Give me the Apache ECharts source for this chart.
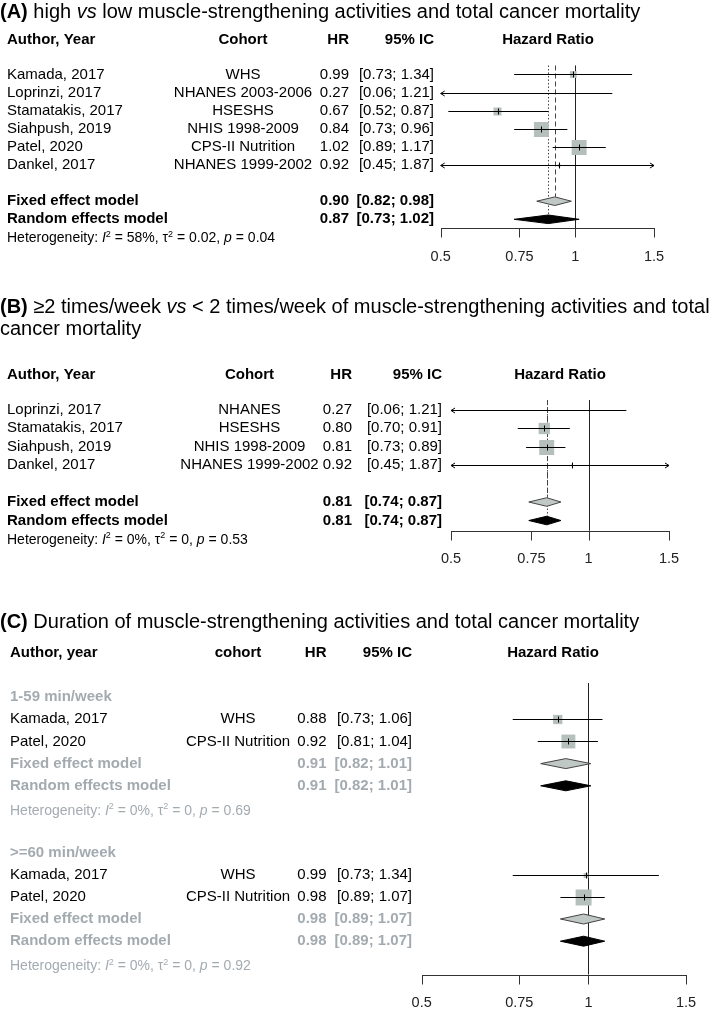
<!DOCTYPE html>
<html>
<head>
<meta charset="utf-8">
<script src="https://cdn.jsdelivr.net/npm/echarts@6/dist/echarts.min.js"></script>
<style>
html,body{margin:0;padding:0;background:#fff;}
#chart{width:709px;height:1010px;}
</style>
</head>
<body>
<div id="chart"></div>
<script>
// ================= DATA =================
const titleA = '{b|(A)} high {i|vs} low muscle-strengthening activities and total cancer mortality';
const titleB = '{b|(B)} ≥2 times/week {i|vs} < 2 times/week of muscle-strengthening activities and total\ncancer mortality';
const titleC = '{b|(C)} Duration of muscle-strengthening activities and total cancer mortality';

const headersAB = ['Author, Year', 'Cohort', 'HR', '95% IC', 'Hazard Ratio'];
const headersC = ['Author, year', 'cohort', 'HR', '95% IC', 'Hazard Ratio'];
const modelLabels = ['Fixed effect model', 'Random effects model'];
const axisTicks = [0.5, 0.75, 1, 1.5];

// Panel A
const authorsA = ['Kamada, 2017', 'Loprinzi, 2017', 'Stamatakis, 2017', 'Siahpush, 2019', 'Patel, 2020', 'Dankel, 2017'];
const cohortsA = ['WHS', 'NHANES 2003-2006', 'HSESHS', 'NHIS 1998-2009', 'CPS-II Nutrition', 'NHANES 1999-2002'];
const hrA = [0.99, 0.27, 0.67, 0.84, 1.02, 0.92];
const lowerA = [0.73, 0.06, 0.52, 0.73, 0.89, 0.45];
const upperA = [1.34, 1.21, 0.87, 0.96, 1.17, 1.87];
const weightA = [8.0, 0.3, 11.2, 39.5, 39.5, 1.5];
const fixedA = [0.90, 0.82, 0.98];
const randomA = [0.87, 0.73, 1.02];
const hetA = ['58%', '0.02', '0.04'];

// Panel B
const authorsB = ['Loprinzi, 2017', 'Stamatakis, 2017', 'Siahpush, 2019', 'Dankel, 2017'];
const cohortsB = ['NHANES', 'HSESHS', 'NHIS 1998-2009', 'NHANES 1999-2002'];
const hrB = [0.27, 0.80, 0.81, 0.92];
const lowerB = [0.06, 0.70, 0.73, 0.45];
const upperB = [1.21, 0.91, 0.89, 1.87];
const weightB = [0.3, 35.8, 62.7, 1.2];
const fixedB = [0.81, 0.74, 0.87];
const randomB = [0.81, 0.74, 0.87];
const hetB = ['0%', '0', '0.53'];

// Panel C
const subgroupsC = ['1-59 min/week', '>=60 min/week'];
const authorsC1 = ['Kamada, 2017', 'Patel, 2020'];
const cohortsC1 = ['WHS', 'CPS-II Nutrition'];
const hrC1 = [0.88, 0.92];
const lowerC1 = [0.73, 0.81];
const upperC1 = [1.06, 1.04];
const weightC1 = [30.9, 69.1];
const fixedC1 = [0.91, 0.82, 1.01];
const randomC1 = [0.91, 0.82, 1.01];
const hetC1 = ['0%', '0', '0.69'];

const authorsC2 = ['Kamada, 2017', 'Patel, 2020'];
const cohortsC2 = ['WHS', 'CPS-II Nutrition'];
const hrC2 = [0.99, 0.98];
const lowerC2 = [0.73, 0.89];
const upperC2 = [1.34, 1.07];
const weightC2 = [8.4, 91.6];
const fixedC2 = [0.98, 0.89, 1.07];
const randomC2 = [0.98, 0.89, 1.07];
const hetC2 = ['0%', '0', '0.92'];

// ================= LAYOUT / STYLE =================
const FONT = '"Liberation Sans", Arial, Helvetica, sans-serif';
const INK = '#000000';
const GREY = '#a3abb0';
const SQ = '#b5c0bd';
const DIA = '#bfc8c4';
const AX = '#333333';

const layoutA = {
  grid: {left: 440.7, width: 213.3, top: 38.3, height: 190.05},
  yMin: -2, yMax: 8.5, header: -1.9, refTop: -0.5, hetOffset: 0.05,
  cols: {author: 7, cohort: 243, hr: 349, ci: 434, haz: 548},
  maxBox: 15, dh: 4.3, modelLines: true, greyModels: false
};
const layoutB = {
  grid: {left: 451, width: 218, top: 372.5, height: 158.2},
  yMin: -2, yMax: 6.55, header: -1.85, refTop: -0.51, hetOffset: 0.05,
  cols: {author: 7, cohort: 249.5, hr: 352, ci: 442, haz: 560},
  maxBox: 15, dh: 4.3, modelLines: true, greyModels: false
};
const layoutC = {
  grid: {left: 421.7, width: 264.3, top: 652.6, height: 321.9},
  yMin: -2, yMax: 12.5, header: -2, refTop: -0.63, hetOffset: 0.12,
  cols: {author: 10, cohort: 238, hr: 326.5, ci: 412, haz: 553},
  maxBox: 16, dh: 5, modelLines: false, greyModels: true
};

// ================= HELPERS =================
function fmt2(v) { return v.toFixed(2); }
function ciText(lo, hi) { return '[' + fmt2(lo) + '; ' + fmt2(hi) + ']'; }
function hetText(h) {
  return '{n|Heterogeneity: }{i|I}{s|2}{n| = ' + h[0] + ', τ}{s|2}{n| = ' + h[1] + ', }{i|p}{n| = ' + h[2] + '}';
}
function hetRich(color) {
  const base = {fontSize: 14, fontFamily: FONT, fill: color, lineHeight: 17, verticalAlign: 'middle'};
  return {
    n: base,
    i: Object.assign({}, base, {fontStyle: 'italic'}),
    s: {fontSize: 9, fontFamily: FONT, fill: color, lineHeight: 9, verticalAlign: 'top'}
  };
}

function buildPanel(gi, L, headers, blocks) {
  const C = L.cols;
  const rows = [];
  const studies = [];
  const diamonds = [];
  const refs = [];
  let maxW = 0;
  blocks.forEach(b => b.weight.forEach(w => { if (w > maxW) maxW = w; }));

  rows.push({row: L.header, items: [
    {t: headers[0], x: C.author, bold: true},
    {t: headers[1], x: C.cohort, align: 'center', bold: true},
    {t: headers[2], x: C.hr, align: 'right', bold: true},
    {t: headers[3], x: C.ci, align: 'right', bold: true},
    {t: headers[4], x: C.haz, align: 'center', bold: true}
  ]});
  const modelColor = L.greyModels ? GREY : INK;
  let r = 0;
  blocks.forEach(b => {
    if (b.label) {
      rows.push({row: r, items: [{t: b.label, x: C.author, bold: true, color: GREY}]});
      r++;
    }
    b.authors.forEach((a, i) => {
      rows.push({row: r, items: [
        {t: a, x: C.author},
        {t: b.cohorts[i], x: C.cohort, align: 'center'},
        {t: fmt2(b.hr[i]), x: C.hr, align: 'right'},
        {t: ciText(b.lower[i], b.upper[i]), x: C.ci, align: 'right'}
      ]});
      studies.push([b.hr[i], r, b.lower[i], b.upper[i], b.weight[i]]);
      r++;
    });
    if (!b.label) r++;
    [b.fixed, b.random].forEach((m, k) => {
      rows.push({row: r, items: [
        {t: modelLabels[k], x: C.author, bold: true, color: modelColor},
        {t: fmt2(m[0]), x: C.hr, align: 'right', bold: true, color: modelColor},
        {t: ciText(m[1], m[2]), x: C.ci, align: 'right', bold: true, color: modelColor}
      ]});
      diamonds.push([m[0], r, m[1], m[2], k]);
      if (L.modelLines) refs.push([m[0], L.refTop, r, k + 1]);
      r++;
    });
    rows.push({row: r + L.hetOffset, items: [
      {t: hetText(b.het), x: C.author, rich: hetRich(L.greyModels ? GREY : INK), color: L.greyModels ? GREY : INK, size: 14}
    ]});
    r += 2;
  });
  refs.unshift([1, L.refTop, L.yMax, 0]);

  const grid = Object.assign({containLabel: false}, L.grid);
  const xAxis = {
    gridIndex: gi, type: 'log', logBase: 10, min: 0.5, max: 1.5, show: false,
    splitLine: {show: false}
  };
  const yAxis = {gridIndex: gi, type: 'value', inverse: true, min: L.yMin, max: L.yMax, show: false, splitLine: {show: false}};

  const common = {type: 'custom', coordinateSystem: 'cartesian2d', xAxisIndex: gi, yAxisIndex: gi,
    silent: true, clip: false, animation: false, encode: {x: 0, y: 1}};

  const textSeries = Object.assign({}, common, {
    name: 'table' + gi,
    data: rows.map(s => [1, s.row]),
    renderItem: function (params, api) {
      const s = rows[params.dataIndex];
      const y = api.coord([1, s.row])[1];
      return {type: 'group', children: s.items.map(it => {
        const st = {
          text: it.t, fill: it.color || INK, fontSize: it.size || 15, fontFamily: FONT,
          fontWeight: it.bold ? 'bold' : 'normal', align: it.align || 'left', verticalAlign: 'middle'
        };
        if (it.rich) st.rich = it.rich;
        return {type: 'text', x: it.x, y: y, style: st};
      })};
    }
  });

  const studySeries = Object.assign({}, common, {
    name: 'studies' + gi,
    data: studies,
    renderItem: function (params, api) {
      const est = api.value(0), row = api.value(1), lo = api.value(2), hi = api.value(3), w = api.value(4);
      const cs = params.coordSys;
      const xMin = cs.x, xMax = cs.x + cs.width;
      const y = Math.round(api.coord([1, row])[1]) + 0.5;
      let x1 = api.coord([lo, row])[0];
      let x2 = api.coord([hi, row])[0];
      const la = x1 < xMin - 0.5, ra = x2 > xMax + 0.5;
      x1 = Math.max(x1, xMin);
      x2 = Math.min(x2, xMax);
      const ch = [];
      const xe = api.coord([est, row])[0];
      const inRange = xe >= xMin && xe <= xMax;
      if (inRange) {
        const s = L.maxBox * Math.sqrt(w / maxW);
        ch.push({type: 'rect', shape: {x: xe - s / 2, y: y - s / 2, width: s, height: s}, style: {fill: SQ}});
      }
      ch.push({type: 'line', shape: {x1: x1, y1: y, x2: x2, y2: y}, style: {stroke: INK, lineWidth: 1}});
      if (la) ch.push({type: 'polyline', shape: {points: [[x1 + 4, y - 2.5], [x1, y], [x1 + 4, y + 2.5]]}, style: {stroke: INK, fill: null, lineWidth: 1}});
      if (ra) ch.push({type: 'polyline', shape: {points: [[x2 - 4, y - 2.5], [x2, y], [x2 - 4, y + 2.5]]}, style: {stroke: INK, fill: null, lineWidth: 1}});
      if (inRange) {
        const xt = Math.round(xe) + 0.5;
        ch.push({type: 'line', shape: {x1: xt, y1: y - 3, x2: xt, y2: y + 3}, style: {stroke: INK, lineWidth: 1}});
      }
      return {type: 'group', children: ch};
    }
  });

  const diamondSeries = Object.assign({}, common, {
    name: 'models' + gi,
    data: diamonds,
    renderItem: function (params, api) {
      const est = api.value(0), row = api.value(1), lo = api.value(2), hi = api.value(3), kind = api.value(4);
      const pe = api.coord([est, row]);
      const pl = api.coord([lo, row])[0];
      const ph = api.coord([hi, row])[0];
      const y = pe[1];
      return {type: 'polygon', shape: {points: [[pl, y], [pe[0], y - L.dh], [ph, y], [pe[0], y + L.dh]]},
        style: {fill: kind === 0 ? DIA : INK, stroke: kind === 0 ? '#444' : INK, lineWidth: 1}};
    }
  });

  const refSeries = Object.assign({}, common, {
    name: 'refs' + gi,
    data: refs,
    renderItem: function (params, api) {
      const xv = api.value(0), r0 = api.value(1), r1 = api.value(2), kind = api.value(3);
      const x = Math.round(api.coord([xv, r0])[0]) + 0.5;
      const y0 = api.coord([xv, r0])[1];
      let y1 = api.coord([xv, r1])[1];
      if (kind > 0) y1 -= L.dh;
      const dash = kind === 1 ? [5, 3] : (kind === 2 ? [1.5, 2] : null);
      return {type: 'line', shape: {x1: x, y1: y0, x2: x, y2: y1},
        style: {stroke: kind === 0 ? '#222' : '#444', lineWidth: 1, lineDash: dash}};
    }
  });

  const axisSeries = Object.assign({}, common, {
    name: 'axis' + gi,
    data: axisTicks.map(v => [v, L.yMax]),
    renderItem: function (params, api) {
      const v = api.value(0);
      const p = api.coord([v, L.yMax]);
      const y = Math.round(p[1]) + 0.5;
      const x = Math.round(p[0]) + 0.5;
      const ch = [];
      if (params.dataIndex === 0) {
        const xa = api.coord([axisTicks[0], L.yMax])[0];
        const xb = api.coord([axisTicks[axisTicks.length - 1], L.yMax])[0];
        ch.push({type: 'line', shape: {x1: Math.round(xa), y1: y, x2: Math.round(xb) + 1, y2: y}, style: {stroke: AX, lineWidth: 1}});
      }
      ch.push({type: 'line', shape: {x1: x, y1: y, x2: x, y2: y + 9}, style: {stroke: AX, lineWidth: 1}});
      ch.push({type: 'text', x: p[0], y: p[1] + 28.5, style: {text: String(v), fill: '#222', fontSize: 14.5, fontFamily: FONT, align: 'center', verticalAlign: 'middle'}});
      return {type: 'group', children: ch};
    }
  });

  return {grid, xAxis, yAxis, series: [textSeries, refSeries, studySeries, diamondSeries, axisSeries]};
}

const panels = [
  buildPanel(0, layoutA, headersAB, [
    {authors: authorsA, cohorts: cohortsA, hr: hrA, lower: lowerA, upper: upperA, weight: weightA, fixed: fixedA, random: randomA, het: hetA}
  ]),
  buildPanel(1, layoutB, headersAB, [
    {authors: authorsB, cohorts: cohortsB, hr: hrB, lower: lowerB, upper: upperB, weight: weightB, fixed: fixedB, random: randomB, het: hetB}
  ]),
  buildPanel(2, layoutC, headersC, [
    {label: subgroupsC[0], authors: authorsC1, cohorts: cohortsC1, hr: hrC1, lower: lowerC1, upper: upperC1, weight: weightC1, fixed: fixedC1, random: randomC1, het: hetC1},
    {label: subgroupsC[1], authors: authorsC2, cohorts: cohortsC2, hr: hrC2, lower: lowerC2, upper: upperC2, weight: weightC2, fixed: fixedC2, random: randomC2, het: hetC2}
  ])
];

function titleStyle() {
  return {
    fontSize: 20, fontWeight: 'normal', color: INK, fontFamily: FONT, lineHeight: 22,
    rich: {
      b: {fontSize: 20, fontWeight: 'bold', color: INK, fontFamily: FONT, lineHeight: 22},
      i: {fontSize: 20, fontStyle: 'italic', color: INK, fontFamily: FONT, lineHeight: 22}
    }
  };
}

const option = {
  backgroundColor: '#ffffff',
  animation: false,
  title: [
    {text: titleA, left: 0, top: 1, padding: 0, textStyle: titleStyle()},
    {text: titleB, left: 0, top: 296, padding: 0, textStyle: titleStyle()},
    {text: titleC, left: 0, top: 611, padding: 0, textStyle: titleStyle()}
  ],
  grid: panels.map(p => p.grid),
  xAxis: panels.map(p => p.xAxis),
  yAxis: panels.map(p => p.yAxis),
  series: panels.reduce((acc, p) => acc.concat(p.series), [])
};

const chart = echarts.init(document.getElementById('chart'), null, {renderer: 'canvas', width: 709, height: 1010});
chart.setOption(option);
</script>
</body>
</html>
